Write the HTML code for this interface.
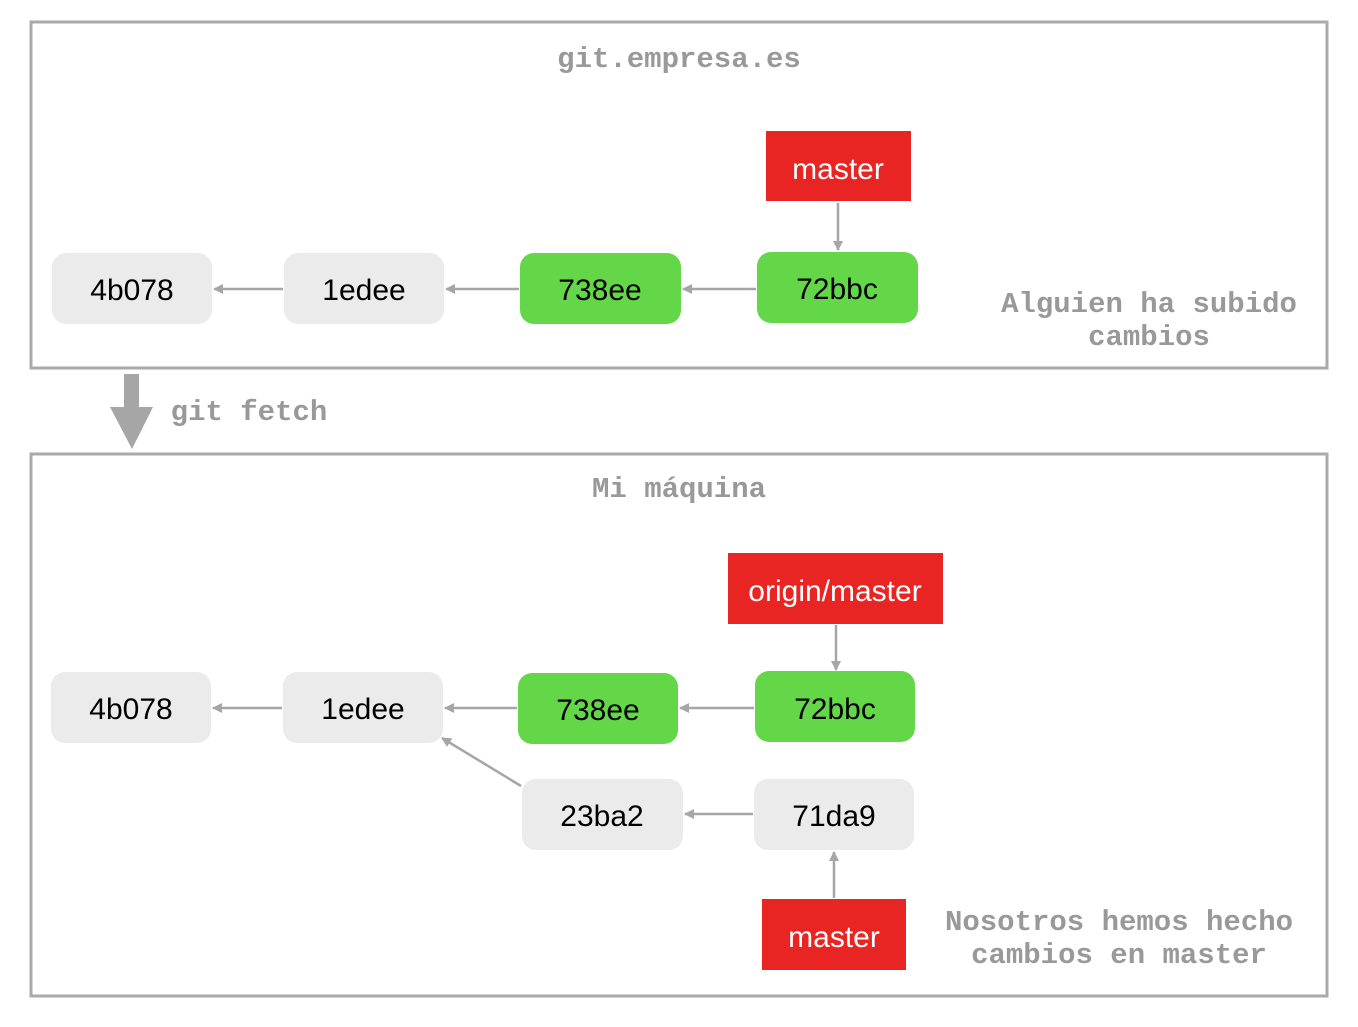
<!DOCTYPE html>
<html><head><style>body{margin:0;background:#fff}</style></head><body>
<svg width="1358" height="1022" xmlns="http://www.w3.org/2000/svg">
<defs><marker id="a" markerWidth="10" markerHeight="10" refX="9" refY="5" orient="auto" markerUnits="userSpaceOnUse"><path d="M0,0 L10,5 L0,10 Z" fill="#a6a6a6"/></marker></defs>
<g fill="none" stroke="#aaa" stroke-width="3">
<rect x="31" y="22" width="1296" height="346"/>
<rect x="31" y="454" width="1296" height="542"/>
</g>
<g font-family="Liberation Mono, monospace" font-weight="bold" font-size="29" fill="#999" text-anchor="middle">
<text x="679" y="67">git.empresa.es</text>
<text x="1149" y="312">Alguien ha subido</text>
<text x="1149" y="345">cambios</text>
<text x="679" y="497">Mi máquina</text>
<text x="1119" y="930">Nosotros hemos hecho</text>
<text x="1119" y="963">cambios en master</text>
<text x="249" y="420">git fetch</text>
</g>
<rect x="124" y="374" width="15" height="38" fill="#a6a6a6"/>
<path d="M110,407 L153,407 L132,449 Z" fill="#a6a6a6"/>
<g stroke="#a6a6a6" stroke-width="2.5" marker-end="url(#a)">
<line x1="283" y1="289" x2="214" y2="289"/>
<line x1="519" y1="289" x2="446" y2="289"/>
<line x1="756" y1="289" x2="683" y2="289"/>
<line x1="838" y1="203" x2="838" y2="250"/>
<line x1="282" y1="708" x2="213" y2="708"/>
<line x1="517" y1="708" x2="445" y2="708"/>
<line x1="754" y1="708" x2="680" y2="708"/>
<line x1="836" y1="625" x2="836" y2="670"/>
<line x1="521" y1="786" x2="442" y2="738"/>
<line x1="753" y1="814" x2="685" y2="814"/>
<line x1="834" y1="898" x2="834" y2="852"/>
</g>
<g>
<rect x="52" y="253" width="160" height="71" rx="14" fill="#ebebeb"/>
<rect x="284" y="253" width="160" height="71" rx="14" fill="#ebebeb"/>
<rect x="520" y="253" width="161" height="71" rx="14" fill="#63d747"/>
<rect x="757" y="252" width="161" height="71" rx="14" fill="#63d747"/>
<rect x="766" y="131" width="145" height="70" fill="#e92524"/>
<rect x="51" y="672" width="160" height="71" rx="14" fill="#ebebeb"/>
<rect x="283" y="672" width="160" height="71" rx="14" fill="#ebebeb"/>
<rect x="518" y="673" width="160" height="71" rx="14" fill="#63d747"/>
<rect x="755" y="671" width="160" height="71" rx="14" fill="#63d747"/>
<rect x="522" y="779" width="161" height="71" rx="14" fill="#ebebeb"/>
<rect x="754" y="779" width="160" height="71" rx="14" fill="#ebebeb"/>
<rect x="728" y="553" width="215" height="71" fill="#e92524"/>
<rect x="762" y="899" width="144" height="71" fill="#e92524"/>
</g>
<g font-family="Liberation Sans, sans-serif" font-size="30" text-anchor="middle" fill="#000">
<text x="132" y="300">4b078</text>
<text x="364" y="300">1edee</text>
<text x="600" y="300">738ee</text>
<text x="837" y="299">72bbc</text>
<text x="131" y="719">4b078</text>
<text x="363" y="719">1edee</text>
<text x="598" y="720">738ee</text>
<text x="835" y="719">72bbc</text>
<text x="602" y="826">23ba2</text>
<text x="834" y="826">71da9</text>
<g fill="#fff">
<text x="838" y="179">master</text>
<text x="835" y="601">origin/master</text>
<text x="834" y="947">master</text>
</g>
</g>
</svg>
</body></html>
